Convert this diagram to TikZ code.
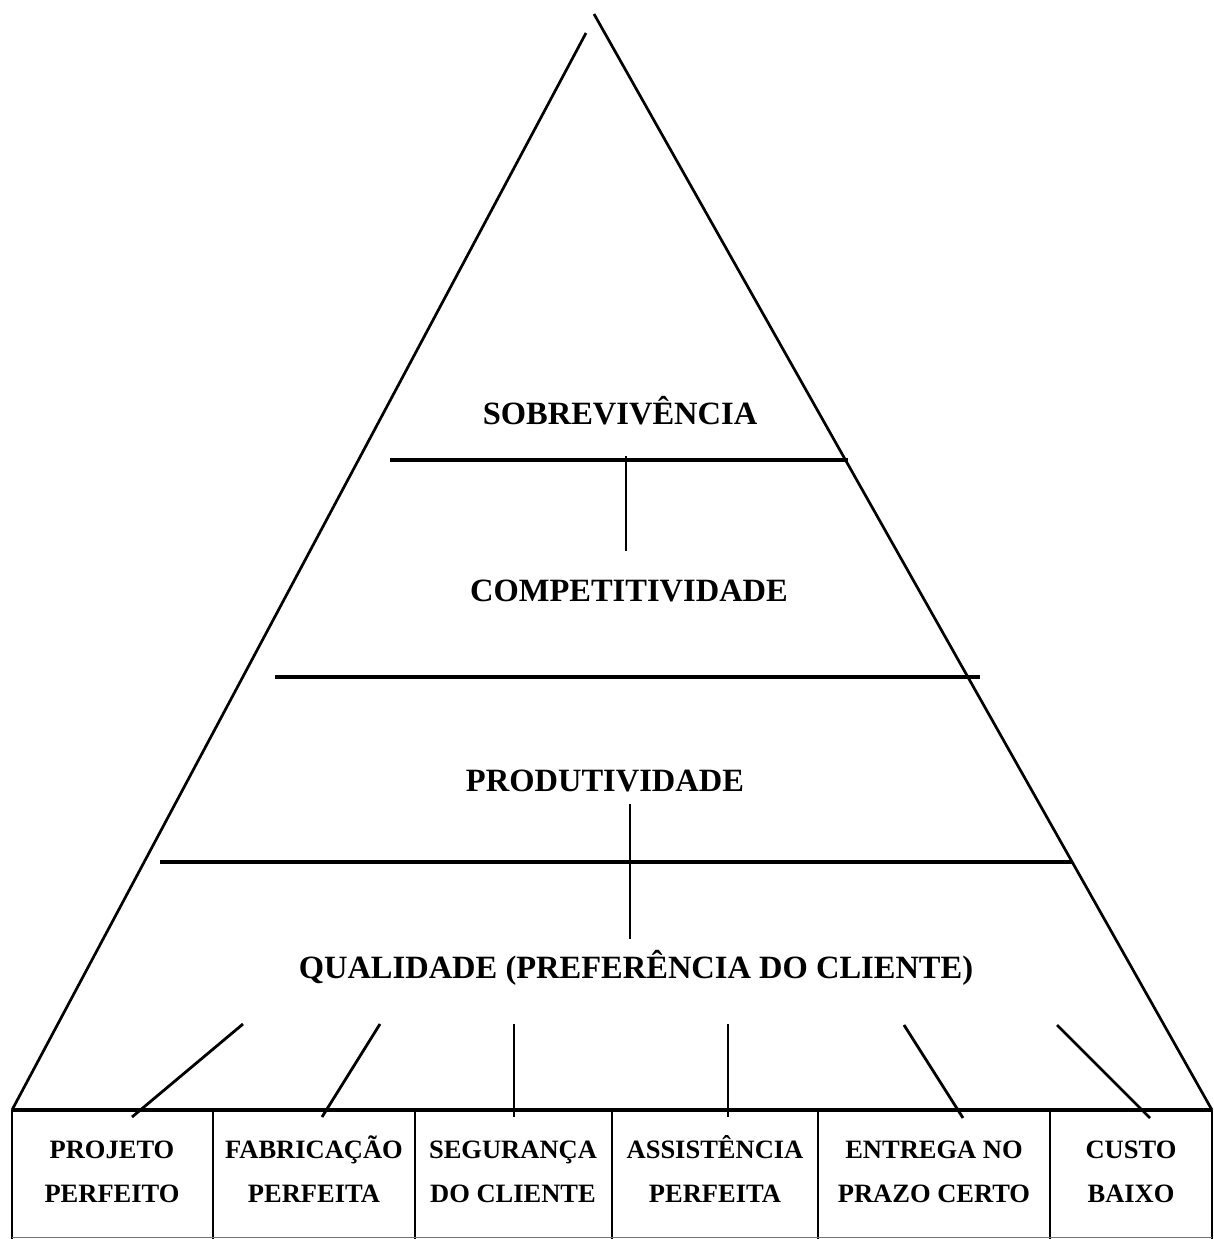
\documentclass[tikz,border=0pt]{standalone}
\usepackage{fontspec}
\setmainfont{Liberation Serif}
\newcommand{\bxt}[2]{\vphantom{Ê}#1\\#2\vphantom{Ç}}
\begin{document}
\begin{tikzpicture}[x=1pt,y=-1pt,
  lvl/.style={font=\fontsize{32.5}{36}\selectfont\bfseries, inner sep=0pt},
  boxtxt/.style={font=\fontsize{26.5}{44}\selectfont\bfseries, inner sep=0pt, align=center},
  side/.style={line width=2.7pt},
  band/.style={line width=3.8pt},
  thinv/.style={line width=1.8pt},
  conn/.style={line width=2.8pt},
  boxline/.style={line width=2.2pt}]
\useasboundingbox (0,0) rectangle (1214,1239);
% pyramid sides
\coordinate (apexL) at (586,33);
\coordinate (apexR) at (594,14);
\coordinate (baseL) at (12,1110);
\coordinate (baseR) at (1212,1110);
\draw[side] (apexL) -- (baseL);
\draw[side] (apexR) -- (baseR);
% bands
\coordinate (b1l) at (390,460); \coordinate (b1r) at (848,460);
\coordinate (b2l) at (275,677); \coordinate (b2r) at (980,677);
\coordinate (b3l) at (160,862); \coordinate (b3r) at (1073,862);
\draw[band] (b1l) -- (b1r);
\draw[band] (b2l) -- (b2r);
\draw[band] (b3l) -- (b3r);
% level texts
\node[lvl] (sob) at (620,411) {SOBREVIVÊNCIA};
\node[lvl] (comp) at (629,591) {COMPETITIVIDADE};
\node[lvl] (prod) at (605,781) {PRODUTIVIDADE};
\node[lvl] (qual) at (636,968) {QUALIDADE (PREFERÊNCIA DO CLIENTE)};
% thin vertical links
\coordinate (v1a) at (626,456); \coordinate (v1b) at (626,551);
\coordinate (v2a) at (630,804); \coordinate (v2b) at (630,939);
\draw[thinv] (v1a) -- (v1b);
\draw[thinv] (v2a) -- (v2b);
% boxes
\draw[band] (baseL) -- (baseR);
\foreach \x in {12,213,415,612,818,1050,1212}{\draw[boxline] (\x,1110) -- (\x,1239);}
\draw[line width=1pt, black!55] (12,1237) -- (1212,1237);
\node[boxtxt] (t1) at (112,1172) {\bxt{PROJETO}{PERFEITO}};
\node[boxtxt] (t2) at (314,1172) {\bxt{FABRICAÇÃO}{PERFEITA}};
\node[boxtxt] (t3) at (513,1172) {\bxt{SEGURANÇA}{DO CLIENTE}};
\node[boxtxt] (t4) at (715,1172) {\bxt{ASSISTÊNCIA}{PERFEITA}};
\node[boxtxt] (t5) at (934,1172) {\bxt{ENTREGA NO}{PRAZO CERTO}};
\node[boxtxt] (t6) at (1131,1172) {\bxt{CUSTO}{BAIXO}};
% connectors
\coordinate (c1a) at (243,1024); \coordinate (c1b) at (132,1117);
\coordinate (c2a) at (380,1024); \coordinate (c2b) at (322,1117);
\coordinate (c3a) at (514,1024); \coordinate (c3b) at (514,1117);
\coordinate (c4a) at (728,1024); \coordinate (c4b) at (728,1117);
\coordinate (c5a) at (904,1025); \coordinate (c5b) at (963,1118);
\coordinate (c6a) at (1057,1025); \coordinate (c6b) at (1150,1118);
\draw[conn] (c1a) -- (c1b);
\draw[conn] (c2a) -- (c2b);
\draw[thinv] (c3a) -- (c3b);
\draw[thinv] (c4a) -- (c4b);
\draw[conn] (c5a) -- (c5b);
\draw[conn] (c6a) -- (c6b);
\end{tikzpicture}
\end{document}
